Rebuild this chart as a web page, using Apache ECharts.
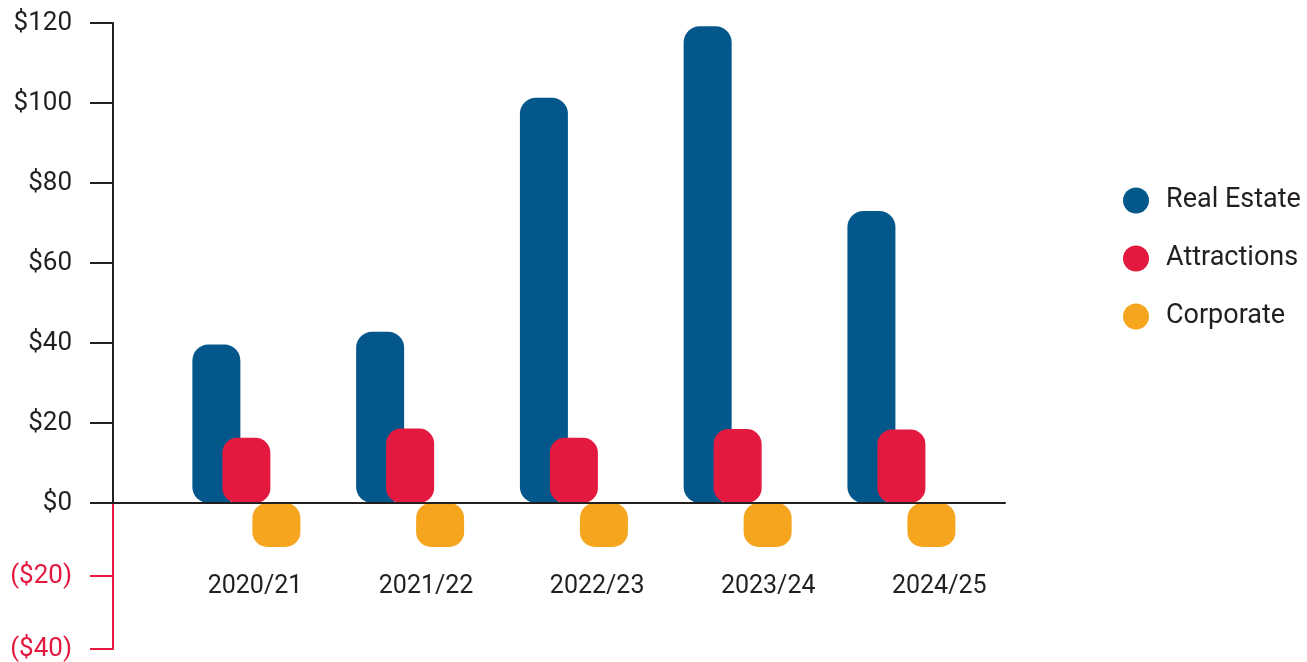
<!DOCTYPE html>
<html>
<head>
<meta charset="utf-8">
<script src="https://cdn.jsdelivr.net/npm/echarts@6/dist/echarts.min.js"></script>
<style>
  html, body { margin: 0; padding: 0; background: #ffffff; }
  #chart { width: 1307px; height: 662px; }
</style>
</head>
<body>
<div id="chart"></div>
<script>
// ---- data ----
const categories = ['2020/21', '2021/22', '2022/23', '2023/24', '2024/25'];
const realEstate = [39.6, 42.8, 101.3, 119.2, 73];
const attractions = [16.3, 18.6, 16.3, 18.5, 18.4];
const corporate = [-11, -11, -11, -11, -11];
const seriesNames = ['Real Estate', 'Attractions', 'Corporate'];
const positiveTicks = [0, 20, 40, 60, 80, 100, 120];
const negativeTicks = [-40, -20];

// ---- style ----
const FONT = 'Roboto';
const TEXT = '#231f20';
const BLUE = '#04578B';
const RED = '#E3193F';
const ORANGE = '#F6A51F';

const chart = echarts.init(document.getElementById('chart'), null, { renderer: 'canvas' });

const barBase = {
  type: 'bar',
  xAxisIndex: 2,
  yAxisIndex: 2,
  barWidth: 48,
  barGap: '-37.5%',
  z: 2
};

const option = {
  animation: false,
  backgroundColor: '#ffffff',
  textStyle: { fontFamily: FONT },
  legend: {
    orient: 'vertical',
    left: 1118,
    top: 182,
    icon: 'circle',
    itemWidth: 26,
    itemHeight: 26,
    itemGap: 31,
    data: seriesNames,
    textStyle: { fontFamily: FONT, fontSize: 27, color: TEXT, padding: [0, 0, 0, 12] }
  },
  grid: [
    { left: 113, right: 302, top: 23, height: 480 },
    { left: 113, right: 302, top: 503, height: 147 },
    { left: 164.5, right: 323.7, top: 23, height: 560 },
    { left: 169.5, right: 282.2, top: 23, height: 480 }
  ],
  xAxis: [
    {
      gridIndex: 0, type: 'category', data: categories, z: 5,
      axisLine: { show: true, lineStyle: { color: TEXT, width: 2 } },
      axisTick: { show: false }, axisLabel: { show: false }, splitLine: { show: false }
    },
    { gridIndex: 1, type: 'category', data: categories, show: false },
    { gridIndex: 2, type: 'category', data: categories, show: false },
    {
      gridIndex: 3, type: 'category', data: categories,
      axisLine: { show: false }, axisTick: { show: false }, splitLine: { show: false },
      axisLabel: { show: true, margin: 71, fontFamily: FONT, fontSize: 25, color: TEXT }
    }
  ],
  yAxis: [
    {
      gridIndex: 0, type: 'value', min: 0, max: 120, interval: 20, z: 5,
      axisLine: { show: true, lineStyle: { color: TEXT, width: 2 } },
      axisTick: { show: true, length: 23, inside: false, lineStyle: { color: TEXT, width: 2 } },
      splitLine: { show: false },
      axisLabel: {
        margin: 41, fontFamily: FONT, fontSize: 26, color: TEXT,
        customValues: positiveTicks,
        formatter: v => '$' + v
      }
    },
    {
      gridIndex: 1, type: 'value', min: -40, max: 0, interval: 20, z: 4,
      axisLine: { show: true, lineStyle: { color: RED, width: 2 } },
      axisTick: { show: true, length: 23, inside: false, customValues: negativeTicks, lineStyle: { color: RED, width: 2 } },
      splitLine: { show: false },
      axisLabel: {
        margin: 41, fontFamily: FONT, fontSize: 26, color: RED,
        customValues: negativeTicks,
        formatter: v => (v === 0 ? '' : '($' + (-v) + ')')
      }
    },
    { gridIndex: 2, type: 'value', min: -20, max: 120, show: false, splitLine: { show: false } },
    { gridIndex: 3, type: 'value', min: 0, max: 120, show: false, splitLine: { show: false } }
  ],
  series: [
    Object.assign({}, barBase, {
      name: seriesNames[0], data: realEstate,
      itemStyle: { color: BLUE, borderRadius: 16 }
    }),
    Object.assign({}, barBase, {
      name: seriesNames[1], data: attractions,
      itemStyle: { color: RED, borderRadius: 15 }
    }),
    Object.assign({}, barBase, {
      name: seriesNames[2], data: corporate,
      itemStyle: { color: ORANGE, borderRadius: 15 }
    })
  ]
};

chart.setOption(option);
</script>
</body>
</html>
